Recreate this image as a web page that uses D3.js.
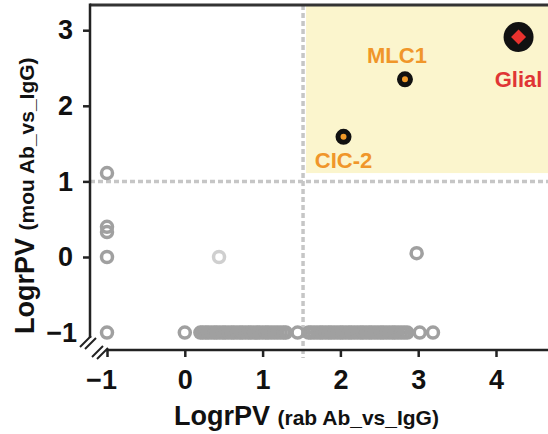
<!DOCTYPE html>
<html>
<head>
    <meta charset="utf-8">
    <script src="https://d3js.org/d3.v7.min.js"></script>
    <style>
        body { margin: 0; background: #fff; }
        text { font-family: "Liberation Sans", Arial, sans-serif; font-weight: bold; }
    </style>
</head>
<body>
    <div id="cont"></div>
    <script>
        // tick values
        var xTicks = [-1, 0, 1, 2, 3, 4];
        var yTicks = [-1, 0, 1, 2, 3];

        // thresholds
        var xCut = 1.52;
        var yCut = 1;
        var boxBottom = 1.11;

        // grey background proteins [x, y]
        var greyPts = [
            [-1, 1.11], [-1, 0.40], [-1, 0.33], [-1, 0], [-1, -1],
            [2.98, 0.05], [0, -1], [1.45, -1], [3.02, -1], [3.19, -1]
        ];
        var palePts = [[0.44, 0]];

        // dense row at y = -1 (x values)
        var rowX = [
            0.20, 0.23, 0.27, 0.30, 0.34, 0.38, 0.41, 0.45, 0.49, 0.52,
            0.56, 0.60, 0.63, 0.67, 0.71, 0.74, 0.78, 0.82, 0.85, 0.89,
            0.93, 0.96, 1.00, 1.04, 1.07, 1.11, 1.15, 1.19, 1.23, 1.27,
            1.30, 1.59, 1.62, 1.66, 1.70, 1.74, 1.77, 1.81, 1.85, 1.88,
            1.92, 1.96, 2.00, 2.03, 2.07, 2.11, 2.14, 2.18, 2.22, 2.26,
            2.29, 2.33, 2.37, 2.40, 2.44, 2.48, 2.52, 2.55, 2.59, 2.63,
            2.67, 2.70, 2.74, 2.78, 2.82, 2.86
        ];

        // highlighted hits
        var hitNames = ["CIC-2", "MLC1"];
        var hitX = [2.04, 2.83];
        var hitY = [1.59, 2.35];
        var glial = {name: "Glial", x: 4.29, y: 2.91};

        var W = 548, H = 434;
        var svg = d3.select("#cont").append("svg")
            .attr("width", W)
            .attr("height", H);

        var x = d3.scaleLinear().domain([-1, 4]).range([107, 496]);
        var y = d3.scaleLinear().domain([-1, 3]).range([332.6, 30.2]);

        var axL = 90, axB = 350, axT = 5;
        var fontFam = "Liberation Sans, Arial, sans-serif";

        // yellow quadrant
        svg.append("rect")
            .attr("x", x(xCut) + 3)
            .attr("y", axT)
            .attr("width", W - x(xCut))
            .attr("height", y(boxBottom) - axT)
            .attr("fill", "#fbf5cd");

        // dashed thresholds
        svg.append("line")
            .attr("x1", axL).attr("x2", W)
            .attr("y1", y(yCut)).attr("y2", y(yCut))
            .attr("stroke", "#c6c6c6").attr("stroke-width", 3.5)
            .attr("stroke-dasharray", "5 3");
        svg.append("line")
            .attr("x1", x(xCut)).attr("x2", x(xCut))
            .attr("y1", axT).attr("y2", 358)
            .attr("stroke", "#c6c6c6").attr("stroke-width", 3.5)
            .attr("stroke-dasharray", "5 3");

        // frame lines
        svg.append("line")
            .attr("x1", axL).attr("x2", W)
            .attr("y1", axT).attr("y2", axT)
            .attr("stroke", "#333").attr("stroke-width", 3);
        svg.append("line")
            .attr("x1", axL).attr("x2", axL)
            .attr("y1", axT - 1.5).attr("y2", 338)
            .attr("stroke", "#222").attr("stroke-width", 2.5);
        svg.append("line")
            .attr("x1", 106).attr("x2", W)
            .attr("y1", axB).attr("y2", axB)
            .attr("stroke", "#222").attr("stroke-width", 2.5);

        // axis break marks
        var breaks = [[85, 342], [90, 344], [97, 352], [102, 354]];
        svg.selectAll(".brk").data(breaks).enter().append("line")
            .attr("class", "brk")
            .attr("x1", function (d) { return d[0] - 5; })
            .attr("y1", function (d) { return d[1] + 5; })
            .attr("x2", function (d) { return d[0] + 6; })
            .attr("y2", function (d) { return d[1] - 6; })
            .attr("stroke", "#222").attr("stroke-width", 2);

        // ticks via d3 axes
        var gx = svg.append("g")
            .attr("transform", "translate(0," + axB + ")")
            .call(d3.axisBottom(x).tickValues(xTicks).tickSize(7).tickPadding(13)
                .tickFormat(d3.format("d")));
        gx.select(".domain").remove();
        gx.selectAll(".tick line").attr("stroke", "#222").attr("stroke-width", 2.5);
        gx.selectAll(".tick text")
            .attr("font-size", 27).attr("fill", "#111")
            .attr("font-family", fontFam)
            .attr("font-weight", "bold")
            .attr("dx", function (d) { return d < 0 ? -6 : 0; });

        var gy = svg.append("g")
            .attr("transform", "translate(" + axL + ",0)")
            .call(d3.axisLeft(y).tickValues(yTicks).tickSize(7).tickPadding(10)
                .tickFormat(d3.format("d")));
        gy.select(".domain").remove();
        gy.selectAll(".tick line")
            .attr("stroke", "#222").attr("stroke-width", 2.5)
            .attr("opacity", function (d) { return d < 0 ? 0 : 1; });
        gy.selectAll(".tick text")
            .attr("font-size", 27).attr("fill", "#111")
            .attr("font-family", fontFam)
            .attr("font-weight", "bold")
            .attr("dx", function (d) { return d < 0 ? 4 : 0; });

        // grey rings
        var rowPts = rowX.map(function (v) { return [v, -1]; });
        svg.selectAll(".row").data(rowPts).enter().append("circle")
            .attr("class", "row")
            .attr("cx", function (d) { return x(d[0]); })
            .attr("cy", function (d) { return y(d[1]); })
            .attr("r", 5.5)
            .attr("fill", "none")
            .attr("stroke", "#a0a0a0")
            .attr("stroke-width", 3.5);
        svg.selectAll(".grey").data(greyPts).enter().append("circle")
            .attr("class", "grey")
            .attr("cx", function (d) { return x(d[0]); })
            .attr("cy", function (d) { return y(d[1]); })
            .attr("r", 5.5)
            .attr("fill", "none")
            .attr("stroke", "#a0a0a0")
            .attr("stroke-width", 3.5);
        svg.selectAll(".pale").data(palePts).enter().append("circle")
            .attr("class", "pale")
            .attr("cx", function (d) { return x(d[0]); })
            .attr("cy", function (d) { return y(d[1]); })
            .attr("r", 5.5)
            .attr("fill", "none")
            .attr("stroke", "#cfcfcf")
            .attr("stroke-width", 3.5);

        // hits
        var hits = hitNames.map(function (n, i) { return {name: n, x: hitX[i], y: hitY[i]}; });
        svg.selectAll(".hit").data(hits).enter().append("circle")
            .attr("class", "hit")
            .attr("cx", function (d) { return x(d.x); })
            .attr("cy", function (d) { return y(d.y); })
            .attr("r", 5.5)
            .attr("fill", "#f19a2a")
            .attr("stroke", "#111")
            .attr("stroke-width", 5);

        var orange = "#f0962a";
        svg.append("text")
            .attr("x", x(hits[1].x) - 8).attr("y", y(hits[1].y) - 16)
            .attr("text-anchor", "middle")
            .attr("font-size", 22).attr("fill", orange)
            .text(hits[1].name);
        svg.append("text")
            .attr("x", x(hits[0].x)).attr("y", y(hits[0].y) + 31)
            .attr("text-anchor", "middle")
            .attr("font-size", 22).attr("fill", orange)
            .text(hits[0].name);

        svg.append("circle")
            .attr("cx", x(glial.x)).attr("cy", y(glial.y))
            .attr("r", 15).attr("fill", "#111");
        svg.append("path")
            .attr("d", d3.symbol().type(d3.symbolSquare).size(112)())
            .attr("transform", "translate(" + x(glial.x) + "," + y(glial.y) + ") rotate(45)")
            .attr("fill", "#e8322e");
        svg.append("text")
            .attr("x", x(glial.x)).attr("y", y(glial.y) + 50)
            .attr("text-anchor", "middle")
            .attr("font-size", 22).attr("fill", "#e03535")
            .text(glial.name);

        // axis titles
        var xt = svg.append("text")
            .attr("x", 174).attr("y", 425)
            .attr("font-size", 27).attr("fill", "#111");
        xt.append("tspan").text("LogrPV ");
        xt.append("tspan").attr("font-size", 21).text("(rab Ab_vs_IgG)");

        var yt = svg.append("text")
            .attr("transform", "translate(34,334) rotate(-90)")
            .attr("font-size", 27).attr("fill", "#111");
        yt.append("tspan").text("LogrPV ");
        yt.append("tspan").attr("font-size", 21).text("(mou Ab_vs_IgG)");
    </script>
</body>
</html>
